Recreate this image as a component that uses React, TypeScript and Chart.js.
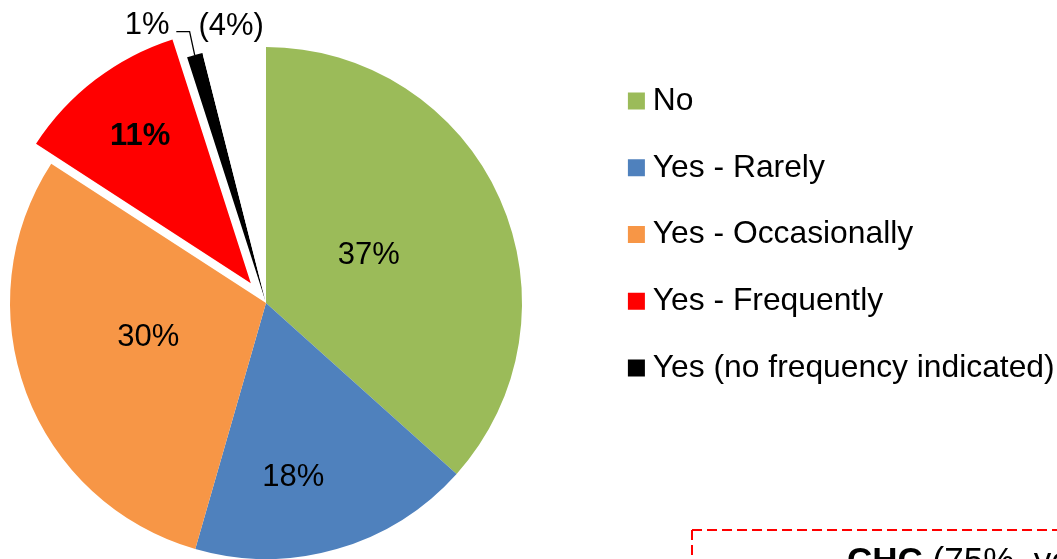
import React, { useEffect, useRef } from 'react';
import { Chart, registerables } from 'chart.js';

Chart.register(...registerables);

// ---- data ----
const categories = ['No', 'Yes - Rarely', 'Yes - Occasionally', 'Yes - Frequently', 'Yes (no frequency indicated)', 'No answer'];
const shares = [37, 18, 30, 11, 1, 4];
const shareLabels = ['37%', '18%', '30%', '11%', '1%', '(4%)'];
const legendCount = 5;
const noteBold = 'CHC';
const noteText = ' (75%, yes)';

// ---- styles ----
const colors = ['#9BBB59', '#4F81BD', '#F79646', '#FF0000', '#000000', '#FFFFFF'];
const explode = [0, 0, 0, 25, 2, 0];
const insideLabel = [
  { r: 0.447, da: -2.1, bold: false },
  { r: 0.68, da: 7, bold: false },
  { r: 0.477, da: 5.2, bold: false },
  { r: 0.724, da: 0.8, bold: true },
];
const FONT = "'Liberation Sans', Arial, Helvetica, sans-serif";
const TEXT_DY = 2.5; // middle baseline -> cap centre correction
const SHIFT = 69; // canvas shifted left in the page
const CANVAS_W = 1130;
const CANVAS_H = 559;

const explodePlugin = {
  id: 'explodeSlices',
  afterDatasetsUpdate(chart: any) {
    const meta = chart.getDatasetMeta(0);
    meta.data.forEach((arc: any, i: number) => {
      const e = explode[i] || 0;
      if (!e) return;
      const mid = (arc.startAngle + arc.endAngle) / 2;
      arc.x += Math.cos(mid) * e;
      arc.y += Math.sin(mid) * e;
    });
  },
};

const labelPlugin = {
  id: 'sliceLabels',
  afterDatasetsDraw(chart: any) {
    const ctx = chart.ctx;
    const meta = chart.getDatasetMeta(0);
    ctx.save();
    ctx.fillStyle = '#000';
    ctx.textBaseline = 'middle';
    // inside labels
    insideLabel.forEach((cfg, i) => {
      const arc = meta.data[i];
      const mid = (arc.startAngle + arc.endAngle) / 2 + (cfg.da * Math.PI) / 180;
      const r = arc.outerRadius * cfg.r;
      ctx.font = `${cfg.bold ? 'bold ' : ''}31px ${FONT}`;
      ctx.textAlign = 'center';
      ctx.fillText(shareLabels[i], arc.x + Math.cos(mid) * r, arc.y + Math.sin(mid) * r + TEXT_DY);
    });
    // outer label with leader for the black slice
    {
      const arc = meta.data[4];
      const mid = (arc.startAngle + arc.endAngle) / 2;
      const px = arc.x + Math.cos(mid) * arc.outerRadius;
      const py = arc.y + Math.sin(mid) * arc.outerRadius;
      const ex = px - 5.1;
      const ey = py - 23.4;
      ctx.strokeStyle = '#000';
      ctx.lineWidth = 1.3;
      ctx.beginPath();
      ctx.moveTo(px, py);
      ctx.lineTo(ex, ey);
      ctx.lineTo(ex - 13.3, ey);
      ctx.stroke();
      ctx.font = `31px ${FONT}`;
      ctx.textAlign = 'right';
      ctx.fillText(shareLabels[4], ex - 20, ey - 9 + TEXT_DY);
    }
    // outer label for the white slice
    {
      const arc = meta.data[5];
      const mid = (arc.startAngle + arc.endAngle) / 2;
      const r = arc.outerRadius + 25;
      ctx.font = `31px ${FONT}`;
      ctx.textAlign = 'center';
      ctx.fillText(shareLabels[5], arc.x + Math.cos(mid) * r, arc.y + Math.sin(mid) * r + TEXT_DY);
    }
    ctx.restore();
  },
};

const notePlugin = {
  id: 'noteBox',
  afterDraw(chart: any) {
    const ctx = chart.ctx;
    ctx.save();
    const x = 692 + SHIFT;
    const y = 530;
    const right = CANVAS_W + 20;
    const bottom = CANVAS_H + 40;
    ctx.strokeStyle = '#FF0000';
    ctx.lineWidth = 2;
    ctx.setLineDash([10, 5]);
    ctx.beginPath();
    ctx.moveTo(x, y);
    ctx.lineTo(x, bottom);
    ctx.moveTo(x, y);
    ctx.lineTo(right, y);
    ctx.stroke();
    ctx.setLineDash([]);
    ctx.fillStyle = '#000';
    ctx.textBaseline = 'alphabetic';
    ctx.textAlign = 'left';
    const tx = 847 + SHIFT;
    const ty = 572;
    ctx.font = `bold 35px ${FONT}`;
    ctx.fillText(noteBold, tx, ty);
    const w = ctx.measureText(noteBold).width;
    ctx.font = `35px ${FONT}`;
    ctx.fillText(noteText, tx + w, ty);
    ctx.restore();
  },
};

export default function App() {
  const ref = useRef<HTMLCanvasElement>(null);
  useEffect(() => {
    if (!ref.current) return;
    const chart = new Chart(ref.current, {
      type: 'pie',
      data: {
        labels: categories,
        datasets: [
          {
            data: shares,
            backgroundColor: colors,
            borderWidth: 0,
            radius: 256,
            clip: false,
          } as any,
        ],
      },
      options: {
        responsive: false,
        animation: false,
        devicePixelRatio: 1,
        events: [],
        layout: { padding: { left: 0, right: 0, top: 50.3, bottom: 3.3 } },
        plugins: {
          legend: {
            position: 'right',
            align: 'start',
            maxWidth: 460,
            labels: {
              usePointStyle: true,
              pointStyle: 'rect',
              boxWidth: 1,
              boxHeight: 17,
              padding: 34.9,
              color: '#000',
              font: { family: FONT, size: 31.8 },
              filter: (item: any) => item.index < legendCount,
            },
          },
          tooltip: { enabled: false },
        },
      } as any,
      plugins: [explodePlugin, labelPlugin, notePlugin],
    });
    return () => chart.destroy();
  }, []);
  return (
    <div
      style={{
        position: 'absolute',
        left: 0,
        top: 0,
        width: 1057,
        height: 559,
        overflow: 'hidden',
        background: '#fff',
      }}
    >
      <canvas
        ref={ref}
        width={CANVAS_W}
        height={CANVAS_H}
        style={{ position: 'absolute', left: -SHIFT, top: 0 }}
      />
    </div>
  );
}
